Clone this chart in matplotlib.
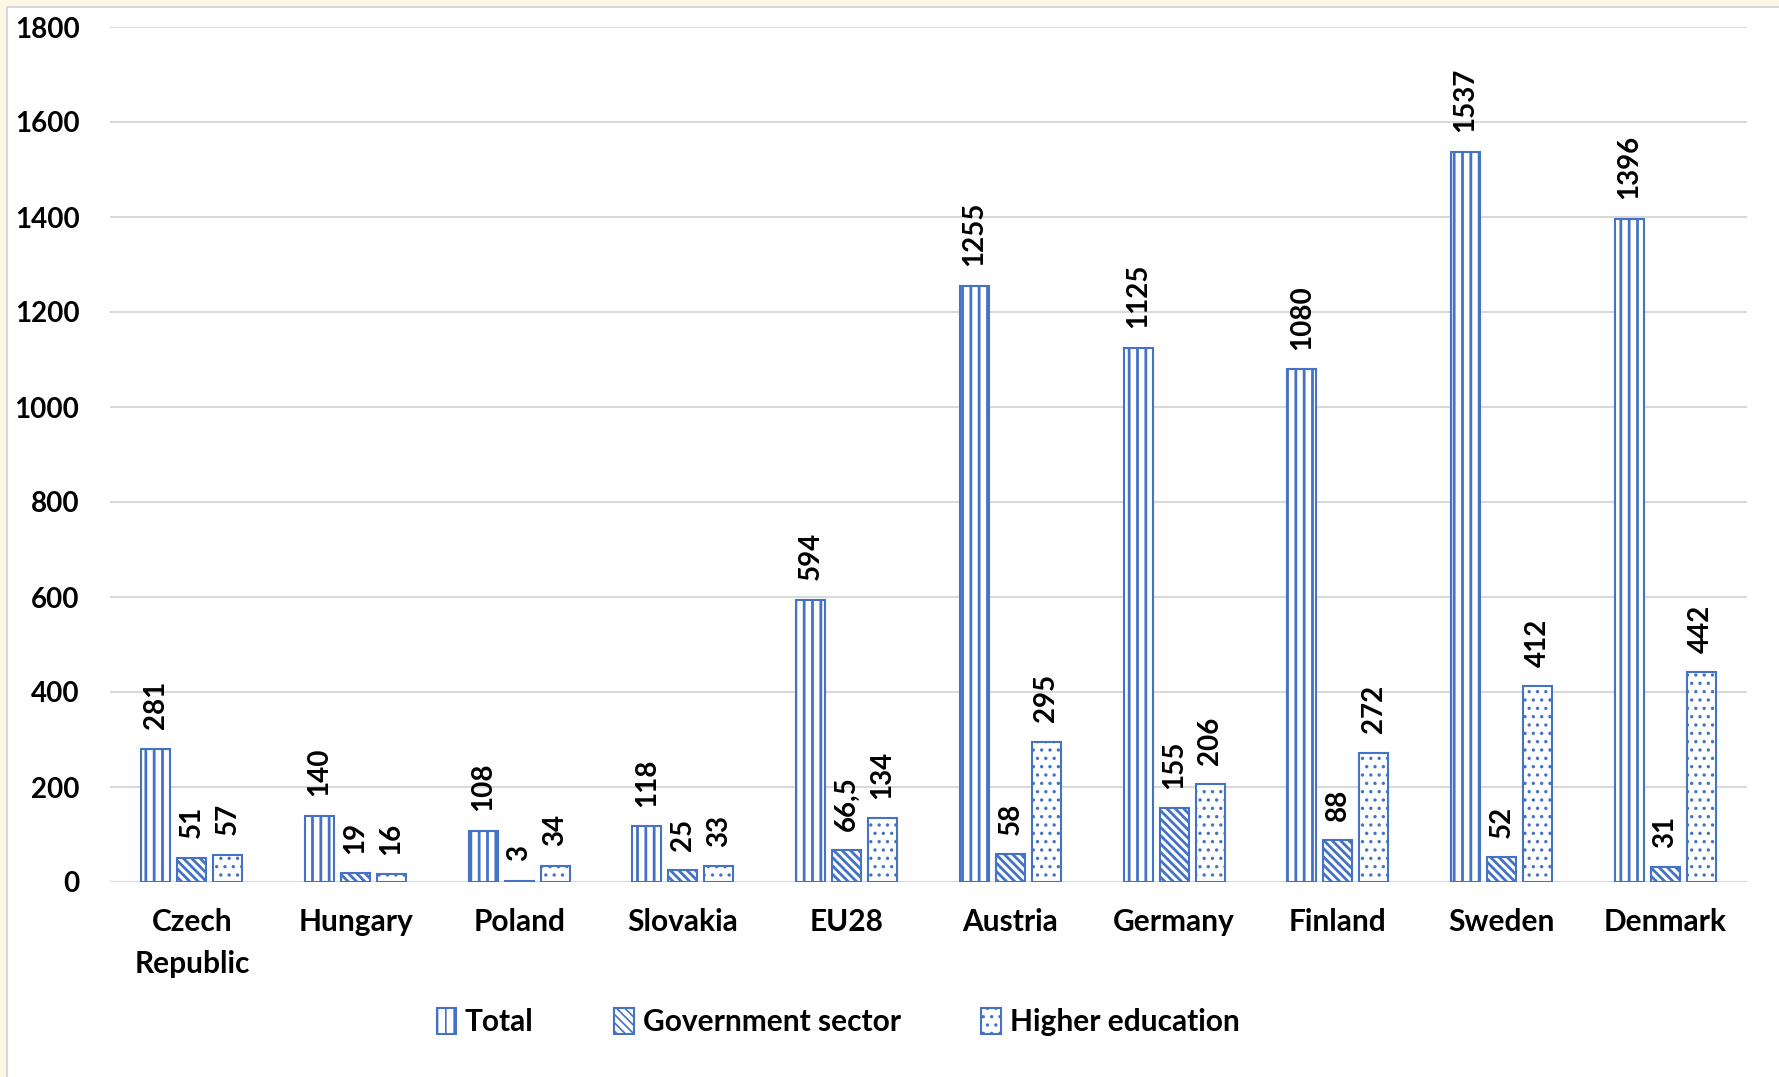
import numpy as np
import matplotlib
matplotlib.use('Agg')
import matplotlib.pyplot as plt
from matplotlib.patches import Rectangle

'''Data'''
countries = ['Czech\nRepublic', 'Hungary', 'Poland', 'Slovakia', 'EU28',
             'Austria', 'Germany', 'Finland', 'Sweden', 'Denmark']
total = [281, 140, 108, 118, 594, 1255, 1125, 1080, 1537, 1396]
government = [51, 19, 3, 25, 66.5, 58, 155, 88, 52, 31]
higher_edu = [57, 16, 34, 33, 134, 295, 206, 272, 412, 442]
series_names = ['Total', 'Government sector', 'Higher education']
y_ticks = [0, 200, 400, 600, 800, 1000, 1200, 1400, 1600, 1800]

blue = '#4472C4'
plt.rcParams['font.family'] = ['Lato', 'DejaVu Sans']
plt.rcParams['font.weight'] = 'bold'
plt.rcParams['hatch.color'] = blue

W, H = 1779, 1077
fig = plt.figure(figsize=(W / 100, H / 100), dpi=100, facecolor='#FFF7E6')

    # white card with light border on the left/top
fig.patches.append(Rectangle((7 / W, -0.01), 1.0, 1 - 7 / H + 0.01, transform=fig.transFigure,
                             facecolor='white', edgecolor='#D9D9D9', linewidth=1.5, zorder=-10))

ax = fig.add_axes([110 / W, 1 - 882 / H, (1747 - 110) / W, (882 - 27) / H])
ax.set_facecolor('none')

x = np.arange(len(countries))
bw = 0.177
off = 0.22
hatches = ['||', '\\\\\\\\', '..']
hatch_lw = [2.0, 2.0, 1.2]
series = [total, government, higher_edu]

bars = []
for i, (vals, h) in enumerate(zip(series, hatches)):
    plt.rcParams['hatch.linewidth'] = hatch_lw[i]
    b = ax.bar(x + (i - 1) * off, vals, bw, facecolor='white', edgecolor=blue,
               linewidth=1.5, hatch=h, label=series_names[i], zorder=3)
    bars.append(b)
    for rect, v in zip(b, vals):
        txt = str(v).replace('.', ',') if isinstance(v, float) else str(v)
        ax.annotate(txt, (rect.get_x() + rect.get_width() / 2, rect.get_height()),
                    xytext=(0, 14), textcoords='offset points', rotation=90,
                    ha='center', va='bottom', fontsize=20, fontweight='bold')

ax.set_xlim(-0.5, len(countries) - 0.5)
ax.set_ylim(0, 1800)
ax.set_yticks(y_ticks)
ax.set_xticks(x)
ax.set_xticklabels(countries, fontsize=21.5, fontweight='bold', linespacing=1.6)
ax.tick_params(axis='y', length=0, pad=22, labelsize=20)
ax.tick_params(axis='x', length=0, pad=19)
ax.grid(axis='y', color='#D9D9D9', linewidth=1.5, zorder=0)
for s in ax.spines.values():
    s.set_visible(False)

fig.legend(handles=bars, labels=series_names, loc='center', ncol=3,
           bbox_to_anchor=(838 / W, 1 - 1022 / H), frameon=False, fontsize=21.5,
           handlelength=0.65, handleheight=0.95, handletextpad=0.3, columnspacing=2.7)

fig.savefig('out.png', dpi=100, facecolor=fig.get_facecolor())
